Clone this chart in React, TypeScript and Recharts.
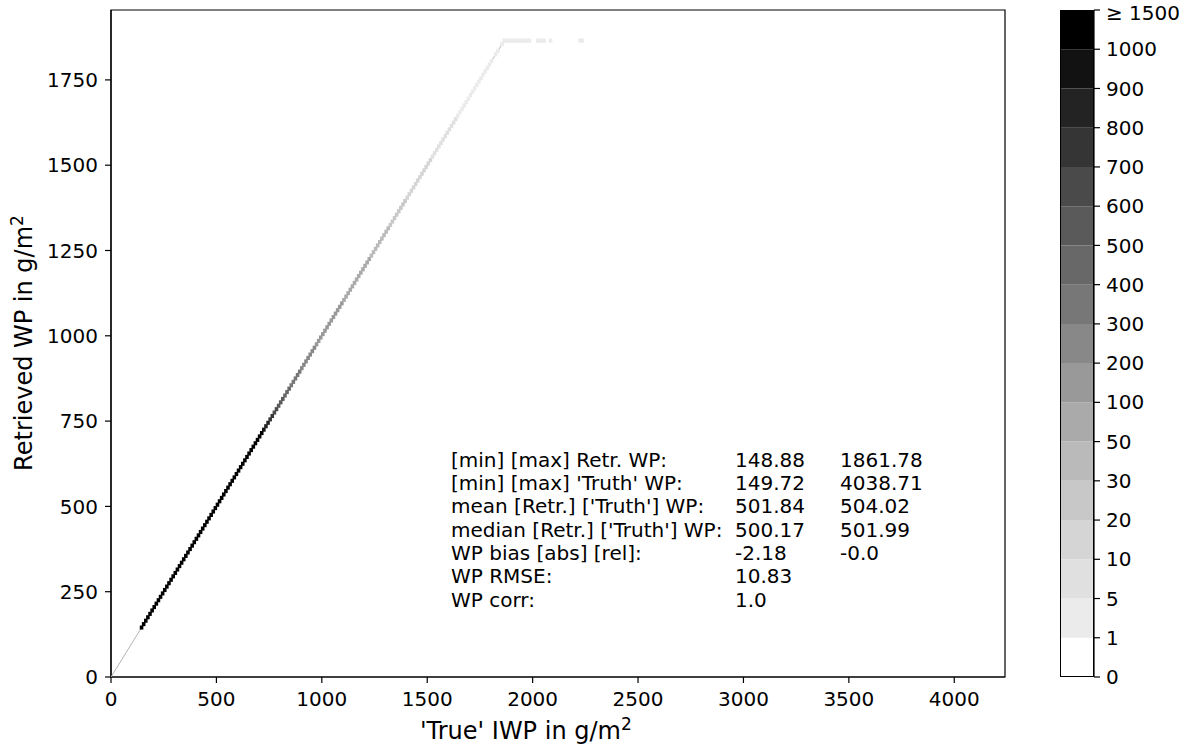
import React from 'react';
import { ScatterChart, Scatter, XAxis, YAxis, ReferenceArea, BarChart, Bar } from 'recharts';

const FONT = 'DejaVu Sans, sans-serif';

// axes
const xTicks = [0, 500, 1000, 1500, 2000, 2500, 3000, 3500, 4000];
const yTicks = [0, 250, 500, 750, 1000, 1250, 1500, 1750];
const X_MAX = 4240.65;
const Y_MAX = 1954.87;

// 2d histogram, 10 g/m2 bins, cells along the 1:1 diagonal (bin start 140 .. 1860)
const BIN = 10;
const diagStart = 140;
const diagCounts = [
  1010,
  1180, 1240, 1210, 1260, 1230, 1190, 1250, 1220, 1270, 1200,
  1240, 1210, 1260, 1230, 1190, 1250, 1280, 1220, 1200, 1240,
  1230, 1260, 1210, 1190, 1250, 1240, 1270, 1220, 1200, 1230,
  1260, 1210, 1240, 1190, 1250, 1230, 1220, 1270, 1200, 1240,
  1210, 1250, 1230, 1260, 1190, 1220, 1240, 1200, 1250, 1210,
  1230, 1190, 1170, 1140, 1110,
  1080, 1010, 940, 880, 820, 760, 700, 650, 610, 570,
  530, 500, 470, 440, 410, 385, 360, 340, 320, 300,
  285, 270, 255, 240, 228, 216, 205, 195, 185, 176,
  167, 158, 150, 142, 135, 128, 121, 115, 109, 104,
  98, 93, 88, 84, 79, 75, 71, 67, 64, 60,
  57, 54, 51, 48, 46, 43, 41, 39, 37, 35,
  33, 31, 29, 28, 26, 25, 23, 22, 21, 20,
  19, 18, 17, 16, 15, 14, 13, 12, 12, 11,
  10, 10, 9, 9, 8, 8, 7, 7, 6, 6,
  6, 5, 5, 5, 4, 4, 4, 3, 3, 3,
  3, 2, 2, 2, 2, 2, 1, 2, 1, 1,
  1, 0, 1, 1, 0, 1, 4,
];

// retrievals capped at max -> horizontal row
const topRowY = 1860;
const topRowBins = [1870, 1880, 1890, 1900, 1910, 1920, 1930, 1940, 1950, 1960, 1970, 1980, 2020, 2030, 2040, 2050, 2080, 2220, 2230];
const topRowCounts = [2, 2, 1, 2, 1, 1, 1, 1, 1, 1, 1, 1, 1, 1, 1, 1, 1, 1, 1];

const oneToOne = [
  { x: 0, y: 0 },
  { x: 1861.78, y: 1861.78 },
];

// colour levels
const levels = [0, 1, 5, 10, 20, 30, 50, 100, 200, 300, 400, 500, 600, 700, 800, 900, 1000];
const levelLabels = ['0', '1', '5', '10', '20', '30', '50', '100', '200', '300', '400', '500', '600', '700', '800', '900', '1000', '≥ 1500'];
const levelColors = [
  '#ffffff', '#ebebeb', '#e0e0e0', '#d5d5d5', '#c8c8c8', '#bababa', '#aaaaaa', '#999999', '#888888',
  '#777777', '#686868', '#5a5a5a', '#4a4a4a', '#353535', '#232323', '#121212', '#000000',
];

const statsRows = [
  ['[min] [max] Retr. WP:', '148.88', '1861.78'],
  ["[min] [max] 'Truth' WP:", '149.72', '4038.71'],
  ["mean [Retr.] ['Truth'] WP:", '501.84', '504.02'],
  ["median [Retr.] ['Truth'] WP:", '500.17', '501.99'],
  ['WP bias [abs] [rel]:', '-2.18', '-0.0'],
  ['WP RMSE:', '10.83', ''],
  ['WP corr:', '1.0', ''],
];

const colorFor = (c: number) => {
  let idx = 0;
  levels.forEach((l, i) => {
    if (c >= l) idx = i;
  });
  return levelColors[idx];
};

const cells = [
  ...diagCounts.map((c, i) => ({ x: diagStart + i * BIN + BIN / 2, y: diagStart + i * BIN + BIN / 2, count: c })),
  ...topRowBins.map((b, i) => ({ x: b + BIN / 2, y: topRowY + BIN / 2, count: topRowCounts[i] })),
].filter((d) => d.count > 0);

const PLOT_W = 894;
const PLOT_H = 667;
const cellW = (BIN * PLOT_W) / X_MAX;
const cellH = (BIN * PLOT_H) / Y_MAX;

const HistCell = (props: any) => {
  const { cx, cy, payload } = props;
  if (cx == null || cy == null) return null;
  const w = cellW * 1.7;
  const h = cellH * 1.2;
  return <rect x={cx - w / 2} y={cy - h / 2} width={w} height={h} fill={colorFor(payload.count)} />;
};

const cbData = [Object.fromEntries([['name', 'cb'], ...levelColors.map((_, i) => ['b' + i, 1])])];
const cbTicks = levelLabels.map((_, i) => i);

const tickStyle = { fill: '#000', fontSize: 20, fontFamily: FONT };

// colorbar tick label; the top one is nudged down so it stays inside the page
const CbTick = (props: any) => {
  const { x, y, payload } = props;
  const v = payload.value as number;
  const top = v === levelLabels.length - 1;
  return (
    <text x={x} y={y + (top ? 3 : 0)} dy="0.355em" textAnchor="start" fontSize={20} fontFamily={FONT} fill="#000">
      {levelLabels[v]}
    </text>
  );
};

export default function App() {
  return (
    <div style={{ position: 'relative', width: 1193, height: 744, background: '#fff', fontFamily: FONT }}>
      <style>{'body{margin:0}'}</style>
      <div style={{ position: 'absolute', left: 0, top: 0 }}>
        <ScatterChart width={1193} height={744} margin={{ top: 10, right: 188, bottom: 0, left: 0 }}>
          <XAxis
            type="number"
            dataKey="x"
            domain={[0, X_MAX]}
            ticks={xTicks}
            allowDataOverflow
            height={67}
            tickSize={6}
            tickMargin={9}
            interval={0}
            axisLine={{ stroke: '#000', strokeWidth: 1.2 }}
            tickLine={{ stroke: '#000', strokeWidth: 1.2 }}
            tick={tickStyle}
          />
          <YAxis
            type="number"
            dataKey="y"
            domain={[0, Y_MAX]}
            ticks={yTicks}
            allowDataOverflow
            width={111}
            tickSize={6}
            tickMargin={7}
            interval={0}
            axisLine={{ stroke: '#000', strokeWidth: 1.2 }}
            tickLine={{ stroke: '#000', strokeWidth: 1.2 }}
            tick={tickStyle}
          />
          <Scatter
            data={oneToOne}
            line={{ stroke: '#b4b4b4', strokeWidth: 1 }}
            shape={() => null}
            isAnimationActive={false}
          />
          <Scatter data={cells} shape={HistCell} isAnimationActive={false} />
          <ReferenceArea x1={0} x2={X_MAX} y1={0} y2={Y_MAX} fill="none" stroke="#000" strokeWidth={1.2} />
        </ScatterChart>
      </div>

      <div style={{ position: 'absolute', left: 1060, top: 0 }}>
        <BarChart width={133} height={744} data={cbData} margin={{ top: 10, right: 0, bottom: 67, left: 0 }} barCategoryGap={0} barGap={0}>
          <XAxis dataKey="name" hide />
          <YAxis
            orientation="right"
            type="number"
            domain={[0, 17]}
            ticks={cbTicks}
            interval={0}
            width={99}
            tickSize={6}
            tickMargin={6}
            axisLine={{ stroke: '#000', strokeWidth: 1.2 }}
            tickLine={{ stroke: '#000', strokeWidth: 1.2 }}
            tick={<CbTick />}
          />
          {levelColors.map((c, i) => (
            <Bar key={i} dataKey={'b' + i} stackId="cb" fill={c} isAnimationActive={false} />
          ))}
        </BarChart>
      </div>
      <div
        style={{
          position: 'absolute',
          left: 1060,
          top: 10,
          width: 34,
          height: 667,
          border: '1.2px solid #000',
          boxSizing: 'border-box',
          pointerEvents: 'none',
        }}
      />

      <svg width={1193} height={744} style={{ position: 'absolute', left: 0, top: 0, pointerEvents: 'none' }}>
        <g fontFamily={FONT} fill="#000">
          {statsRows.map((r, i) => (
            <g key={i} fontSize={20}>
              <text x={451} y={466.7 + i * 23.3}>{r[0]}</text>
              <text x={735} y={466.7 + i * 23.3}>{r[1]}</text>
              <text x={840} y={466.7 + i * 23.3}>{r[2]}</text>
            </g>
          ))}
          <text x={420} y={739} fontSize={24}>
            'True' IWP in g/m<tspan dy={-9} fontSize={17}>2</tspan>
          </text>
          <text transform="rotate(-90)" x={-343} y={32} fontSize={24} textAnchor="middle">
            Retrieved WP in g/m<tspan dy={-9} fontSize={17}>2</tspan>
          </text>
        </g>
      </svg>
    </div>
  );
}
